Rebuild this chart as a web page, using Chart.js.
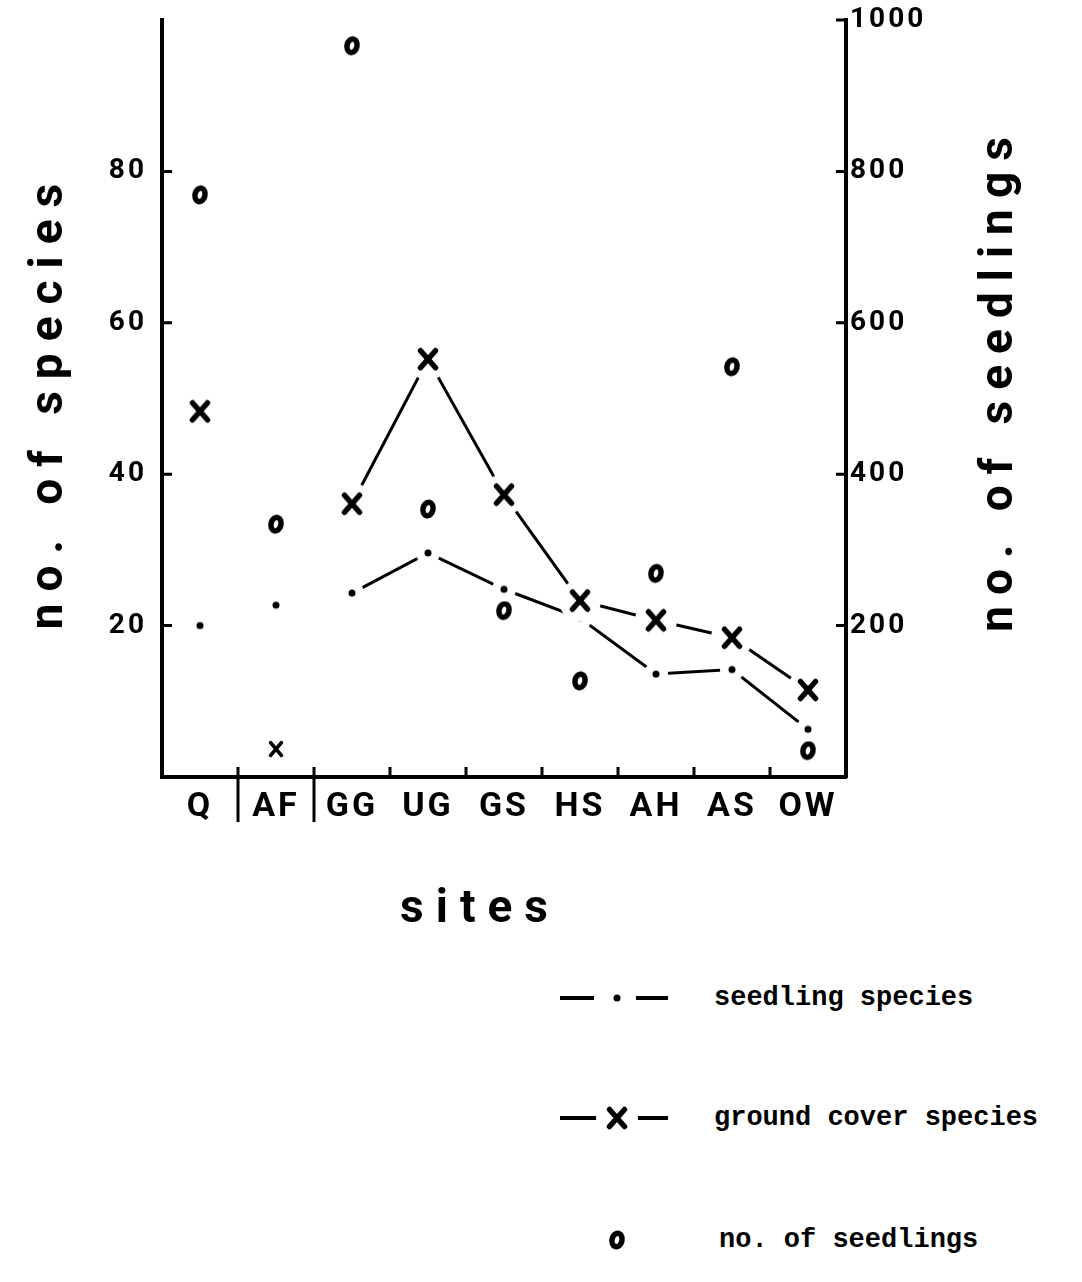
<!DOCTYPE html>
<html>
<head>
<meta charset="utf-8">
<script src="https://cdn.jsdelivr.net/npm/chart.js@4.4.1/dist/chart.umd.min.js"></script>
<style>
html,body{margin:0;padding:0;background:#fff;}
#wrap{position:relative;width:1082px;height:1282px;background:#fff;overflow:hidden;}
#chartBox{position:absolute;left:0;top:0;width:1082px;height:960px;}
.leg{position:absolute;height:40px;display:flex;align-items:center;font-family:"Liberation Mono",monospace;font-weight:bold;font-size:27px;color:#000;white-space:nowrap;}
.leg canvas{width:120px;height:40px;display:block;}
</style>
</head>
<body>
<div id="wrap">
  <div id="chartBox"><canvas id="c"></canvas></div>
  <div id="legend"></div>
</div>
<script>
// ---- data ----
const categories = ['Q', 'AF', 'GG', 'UG', 'GS', 'HS', 'AH', 'AS', 'OW'];
const seedlingSpecies = [20, 22.7, 24.3, 29.6, 24.8, 21.0, 13.6, 14.2, 6.3];
const groundCoverSpecies = [48.3, 3.7, 36.1, 55.2, 37.3, 23.3, 20.7, 18.4, 11.5];
const seedlingCounts = [769, 334, 966, 354, 220, 127, 269, 542, 35];
const speciesTickValues = [20, 40, 60, 80];
const seedlingTickValues = [200, 400, 600, 800, 1000];
const unlinkedSites = ['Q', 'AF'];      // points not joined by the lines
const groupBreaks = ['AF', 'GG'];       // long separators before these sites
const thinMarkerSites = ['AF'];         // ground cover marker drawn lighter here
const seriesLabels = ['seedling species', 'ground cover species', 'no. of seedlings'];
const axisTitles = { species: 'no. of species', seedlings: 'no. of seedlings', sites: 'sites' };

// ---- marker glyphs (white halo gives the gaps in the lines) ----
function makeCross(arm, width) {
  const c = document.createElement('canvas'); c.width = 48; c.height = 48;
  const g = c.getContext('2d');
  g.fillStyle = '#fff'; g.beginPath(); g.arc(24, 24, 21, 0, Math.PI * 2); g.fill();
  g.strokeStyle = '#000'; g.lineWidth = width; g.lineCap = 'round';
  g.beginPath();
  g.moveTo(24 - arm, 24 - arm - 1); g.lineTo(24 + arm, 24 + arm + 1);
  g.moveTo(24 + arm, 24 - arm - 1); g.lineTo(24 - arm, 24 + arm + 1);
  g.stroke();
  return c;
}
function makeDot() {
  const c = document.createElement('canvas'); c.width = 28; c.height = 28;
  const g = c.getContext('2d');
  g.fillStyle = '#fff'; g.beginPath(); g.arc(14, 14, 12, 0, Math.PI * 2); g.fill();
  g.fillStyle = '#000'; g.beginPath(); g.arc(14, 14, 3.5, 0, Math.PI * 2); g.fill();
  return c;
}
function makeRing() {
  const c = document.createElement('canvas'); c.width = 32; c.height = 32;
  const g = c.getContext('2d');
  g.translate(16, 16); g.rotate(0.25);
  g.fillStyle = '#fff'; g.strokeStyle = '#000'; g.lineWidth = 5.5;
  g.beginPath(); g.ellipse(0, 0, 5, 6.8, 0, 0, Math.PI * 2); g.fill(); g.stroke();
  return c;
}
const crossImg = makeCross(7.5, 5.5), thinCrossImg = makeCross(5.5, 3.5), dotImg = makeDot(), ringImg = makeRing();

const hideUnlinked = ctx => unlinkedSites.includes(categories[ctx.p0DataIndex]) ? 'rgba(0,0,0,0)' : '#000';
const crossFor = ctx => thinMarkerSites.includes(categories[ctx.dataIndex]) ? thinCrossImg : crossImg;
const noPad = s => { s.paddingTop = 0; s.paddingBottom = 0; s.paddingLeft = 0; s.paddingRight = 0; };

const axisMarks = {
  id: 'axisMarks',
  beforeDraw(chart) { chart.ctx.letterSpacing = '3px'; },
  afterDraw(chart) {
    const { ctx, chartArea: a, scales: { x, y, y1 } } = chart;
    ctx.save();
    ctx.letterSpacing = '0px';
    ctx.strokeStyle = '#000'; ctx.lineWidth = 3; ctx.lineCap = 'butt';
    ctx.beginPath();
    speciesTickValues.forEach(v => { const p = y.getPixelForValue(v); ctx.moveTo(a.left, p); ctx.lineTo(a.left + 10, p); });
    seedlingTickValues.forEach(v => { const p = y1.getPixelForValue(v); ctx.moveTo(a.right - 10, p); ctx.lineTo(a.right, p); });
    for (let i = 1; i < categories.length; i++) {
      const p = (x.getPixelForValue(i - 1) + x.getPixelForValue(i)) / 2;
      ctx.moveTo(p, a.bottom - 10);
      ctx.lineTo(p, groupBreaks.includes(categories[i]) ? a.bottom + 45 : a.bottom);
    }
    ctx.stroke();
    ctx.fillStyle = '#000'; ctx.textAlign = 'center'; ctx.textBaseline = 'middle';
    ctx.font = 'bold 46px Roboto';
    const drawVert = (text, cx, cy, sp) => {
      ctx.save(); ctx.letterSpacing = sp + 'px'; ctx.translate(cx, cy); ctx.rotate(-Math.PI / 2);
      ctx.fillText(text, sp / 2, 0); ctx.restore();
    };
    const midY = (a.top + a.bottom) / 2;
    drawVert(axisTitles.species, a.left - 112, midY + 8, 12);
    drawVert(axisTitles.seedlings, a.right + 154, midY - 14, 11);
    ctx.letterSpacing = '12px';
    ctx.fillText(axisTitles.sites, (a.left + a.right) / 2 - 30 + 6, a.bottom + 133);
    ctx.restore();
  }
};

const tickFont = { family: 'Roboto', weight: 'bold', size: 28 };

const chart = new Chart(document.getElementById('c'), {
  type: 'line',
  data: {
    labels: categories,
    datasets: [
      {
        label: seriesLabels[0], data: seedlingSpecies, yAxisID: 'y', order: 1,
        borderColor: '#000', borderWidth: 3, pointStyle: dotImg, pointRadius: 10,
        segment: { borderColor: hideUnlinked }
      },
      {
        label: seriesLabels[1], data: groundCoverSpecies, yAxisID: 'y', order: 0,
        borderColor: '#000', borderWidth: 3, pointStyle: crossFor, pointRadius: 10,
        segment: { borderColor: hideUnlinked }
      },
      {
        label: seriesLabels[2], data: seedlingCounts, yAxisID: 'y1', order: 2,
        showLine: false, borderColor: '#000', pointStyle: ringImg, pointRadius: 10
      }
    ]
  },
  options: {
    responsive: true, maintainAspectRatio: false, animation: false, devicePixelRatio: 1,
    events: [],
    layout: { padding: { top: 20, bottom: 13, left: 0, right: 0 } },
    elements: { line: { tension: 0 } },
    plugins: { legend: { display: false }, tooltip: { enabled: false } },
    scales: {
      x: {
        type: 'category', offset: true,
        grid: { display: false, drawTicks: false },
        border: { display: true, color: '#000', width: 4 },
        ticks: { color: '#000', font: { family: 'Roboto', weight: 'bold', size: 34 }, padding: 10, autoSkip: false, maxRotation: 0 },
        afterFit: s => { s.height = 170; noPad(s); }
      },
      y: {
        type: 'linear', position: 'left', min: 0, max: 100,
        grid: { display: false, drawTicks: false },
        border: { display: true, color: '#000', width: 4 },
        ticks: { stepSize: 20, color: '#000', font: tickFont, padding: 15,
          callback: v => speciesTickValues.includes(v) ? String(v) : '' },
        afterFit: s => { s.width = 162; noPad(s); }
      },
      y1: {
        type: 'linear', position: 'right', min: 0, max: 1000,
        grid: { display: false, drawTicks: false },
        border: { display: true, color: '#000', width: 4 },
        ticks: { stepSize: 200, color: '#000', font: tickFont, padding: 4,
          callback: v => seedlingTickValues.includes(v) ? String(v) : '' },
        afterFit: s => { s.width = 236; noPad(s); }
      }
    }
  },
  plugins: [axisMarks]
});

// ---- legend built from the datasets ----
const legendRows = [998, 1118, 1240];
const legendTextX = [714, 714, 719];
const legendGap = [21, 18, 0];
const legendMarkers = [dotImg, crossImg, ringImg];
const legendBox = document.getElementById('legend');
chart.data.datasets.forEach((ds, i) => {
  const row = document.createElement('div');
  row.className = 'leg';
  row.style.left = '555px';
  row.style.top = (legendRows[i] - 20) + 'px';
  const cv = document.createElement('canvas'); cv.width = 120; cv.height = 40;
  const g = cv.getContext('2d');
  if (ds.showLine !== false) {
    g.strokeStyle = '#000'; g.lineWidth = 4;
    g.beginPath(); g.moveTo(5, 20); g.lineTo(60 - legendGap[i], 20);
    g.moveTo(60 + legendGap[i], 20); g.lineTo(113, 20); g.stroke();
  }
  const img = legendMarkers[i];
  g.drawImage(img, 62 - img.width / 2, 20 - img.height / 2);
  const tx = document.createElement('span');
  tx.textContent = ds.label;
  tx.style.marginLeft = (legendTextX[i] - 555 - 120) + 'px';
  row.appendChild(cv); row.appendChild(tx);
  legendBox.appendChild(row);
});
</script>
</body>
</html>
